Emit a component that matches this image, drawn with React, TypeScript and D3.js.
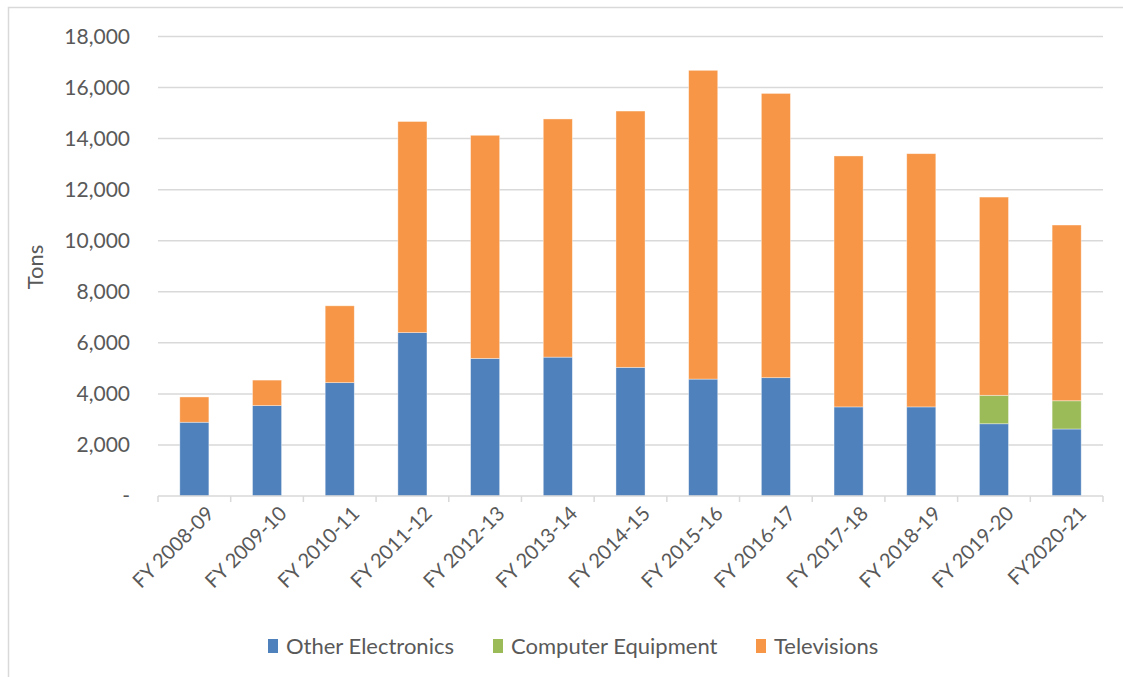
import React, { useEffect, useRef } from 'react';
import * as d3 from 'd3';

const years = [
  'FY 2008-09', 'FY 2009-10', 'FY 2010-11', 'FY 2011-12', 'FY 2012-13', 'FY 2013-14', 'FY 2014-15',
  'FY 2015-16', 'FY 2016-17', 'FY 2017-18', 'FY 2018-19', 'FY 2019-20', 'FY2020-21',
];
const otherElectronics = [2890, 3540, 4440, 6400, 5390, 5440, 5040, 4580, 4635, 3490, 3490, 2830, 2625];
const computerEquipment = [0, 0, 0, 0, 0, 0, 0, 0, 0, 0, 0, 1115, 1105];
const televisions = [990, 1000, 3010, 8270, 8740, 9330, 10040, 12095, 11135, 9830, 9920, 7765, 6885];
const seriesNames = ['Other Electronics', 'Computer Equipment', 'Televisions'];
const seriesColors = ['#4f81bd', '#9bbb59', '#f79646'];
const yTicks = [0, 2000, 4000, 6000, 8000, 10000, 12000, 14000, 16000, 18000];

const W = 1123;
const H = 677;
const FONT = 'Lato, "Open Sans", sans-serif';

export default function App() {
  const svgRef = useRef<SVGSVGElement>(null);

  useEffect(() => {
    if (!svgRef.current) return;
    const svg = d3.select(svgRef.current);
    svg.selectAll('*').remove();

    const rows = years.map((y, i) => ({
      year: y,
      'Other Electronics': otherElectronics[i],
      'Computer Equipment': computerEquipment[i],
      'Televisions': televisions[i],
    }));

    const x = d3.scaleBand<string>()
      .domain(years)
      .range([158, 1103])
      .paddingInner(0.6)
      .paddingOuter(0.3);
    const step = x.step();

    const y = d3.scaleLinear().domain([0, 18000]).range([496, 36.5]);

    // outer border (top + left only visible)
    svg.append('path')
      .attr('d', `M8.5,${H} V7.5 H${W}`)
      .attr('fill', 'none')
      .attr('stroke', '#d9d9d9')
      .attr('stroke-width', 1.5);

    // gridlines
    svg.append('g')
      .selectAll('line')
      .data(yTicks.filter(t => t > 0))
      .enter()
      .append('line')
      .attr('x1', 158)
      .attr('x2', 1103)
      .attr('y1', d => y(d))
      .attr('y2', d => y(d))
      .attr('stroke', '#d9d9d9')
      .attr('stroke-width', 1.5);

    // y labels
    svg.append('g')
      .selectAll('text')
      .data(yTicks)
      .enter()
      .append('text')
      .attr('x', 130)
      .attr('y', d => y(d))
      .attr('dy', '0.35em')
      .attr('text-anchor', 'end')
      .attr('fill', '#595959')
      .style('font-family', FONT)
      .style('font-size', '21px')
      .text(d => (d === 0 ? '-' : d3.format(',')(d)));

    // y title
    svg.append('text')
      .attr('transform', 'translate(43,267) rotate(-90)')
      .attr('text-anchor', 'middle')
      .attr('fill', '#595959')
      .style('font-family', FONT)
      .style('font-size', '22px')
      .text('Tons');

    // stacked bars
    const stack = d3.stack<any>().keys(seriesNames);
    const layers = stack(rows);

    svg.append('g')
      .selectAll('g')
      .data(layers)
      .enter()
      .append('g')
      .attr('fill', (_, i) => seriesColors[i])
      .selectAll('rect')
      .data(d => d.filter(s => s[1] - s[0] > 0))
      .enter()
      .append('rect')
      .attr('x', d => x(d.data.year) as number)
      .attr('width', x.bandwidth())
      .attr('y', d => y(d[1]))
      .attr('height', d => y(d[0]) - y(d[1]))
      .attr('stroke', '#ffffff')
      .attr('stroke-opacity', 0.5)
      .attr('stroke-width', 0.75);

    // x axis line + ticks
    svg.append('line')
      .attr('x1', 158)
      .attr('x2', 1103)
      .attr('y1', y(0))
      .attr('y2', y(0))
      .attr('stroke', '#d9d9d9')
      .attr('stroke-width', 1.5);

    svg.append('g')
      .selectAll('line')
      .data(d3.range(years.length + 1))
      .enter()
      .append('line')
      .attr('x1', i => 158 + i * step)
      .attr('x2', i => 158 + i * step)
      .attr('y1', y(0))
      .attr('y2', y(0) + 6)
      .attr('stroke', '#d9d9d9')
      .attr('stroke-width', 1.5);

    // x labels
    svg.append('g')
      .selectAll('text')
      .data(years)
      .enter()
      .append('text')
      .attr('transform', d => `translate(${(x(d) as number) + x.bandwidth() / 2 + 11},${y(0) + 9}) rotate(-45)`)
      .attr('text-anchor', 'end')
      .attr('dy', '0.7em')
      .attr('fill', '#595959')
      .style('font-family', FONT)
      .style('font-size', '20px')
      .text(d => d);

    // legend
    const legendX = [268, 493, 756];
    const legend = svg.append('g')
      .selectAll('g')
      .data(seriesNames)
      .enter()
      .append('g')
      .attr('transform', (_, i) => `translate(${legendX[i]},646)`);
    legend.append('rect')
      .attr('x', 0)
      .attr('y', -7)
      .attr('width', 10)
      .attr('height', 14)
      .attr('fill', (_, i) => seriesColors[i]);
    legend.append('text')
      .attr('x', 18)
      .attr('dy', '0.35em')
      .attr('fill', '#595959')
      .style('font-family', FONT)
      .style('font-size', '22px')
      .text(d => d);
  }, []);

  return (
    <svg
      ref={svgRef}
      width={W}
      height={H}
      style={{ position: 'absolute', left: 0, top: 0, background: '#fff' }}
    />
  );
}
